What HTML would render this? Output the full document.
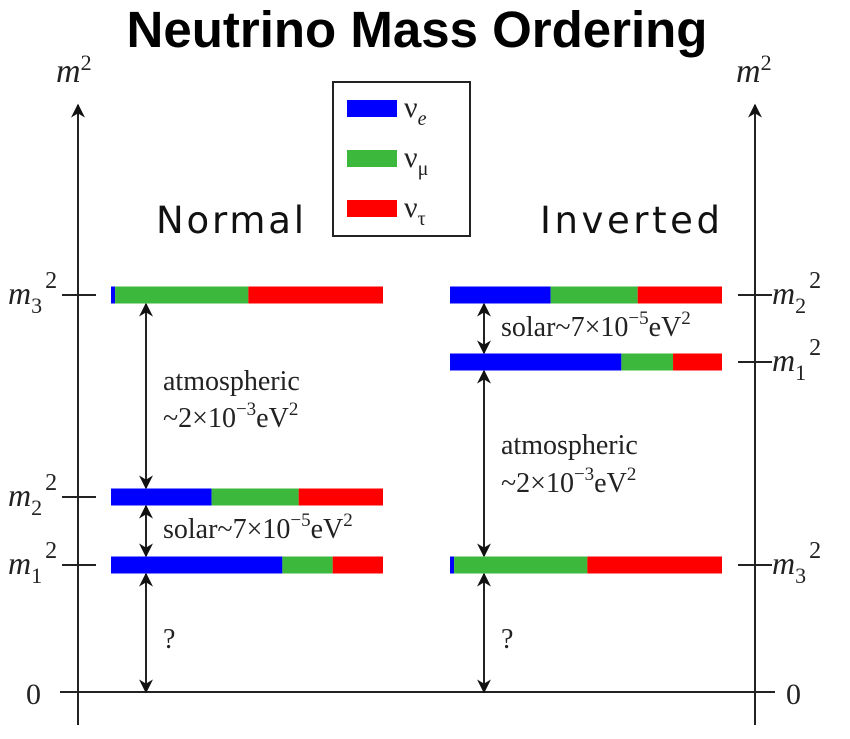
<!DOCTYPE html>
<html><head><meta charset="utf-8"><style>
html,body{margin:0;padding:0;background:#fff;}
svg{display:block;}
text{font-family:"Liberation Serif",serif;fill:#222;}
</style></head><body>
<svg id="chart" width="850" height="739" viewBox="0 0 850 739" xmlns="http://www.w3.org/2000/svg">
<defs>
<marker id="ah" viewBox="0 0 10 10" refX="9" refY="5" markerWidth="7" markerHeight="7" orient="auto-start-reverse"><path d="M0,0 L10,5 L0,10 L3,5 z" fill="#111"/></marker>
</defs>
<text x="417" y="47" text-anchor="middle" style="font-family:'Liberation Sans',sans-serif;font-weight:bold;font-size:51px;fill:#000">Neutrino Mass Ordering</text>
<g id="axes"></g>
<g id="bars"></g>
<g id="labels"></g>
<g>
<rect x="333" y="82" width="137" height="154" fill="#fff" stroke="#222" stroke-width="2"/>
<rect x="347" y="100" width="50" height="17" fill="#0000ff"/>
<text x="404" y="117" font-size="30">ν<tspan font-size="20" font-style="italic" dy="8">e</tspan></text>
<rect x="347" y="150" width="50" height="17" fill="#3cb93c"/>
<text x="404" y="167" font-size="30">ν<tspan font-size="20" dy="8">μ</tspan></text>
<rect x="347" y="200" width="50" height="17" fill="#ff0000"/>
<text x="404" y="217" font-size="30">ν<tspan font-size="20" dy="8">τ</tspan></text>
</g>
<text x="230" y="233" text-anchor="middle" textLength="148" style="font-family:'DejaVu Sans',sans-serif;font-size:37px;fill:#111">Normal</text>
<text x="630" y="233" text-anchor="middle" textLength="180" style="font-family:'DejaVu Sans',sans-serif;font-size:37px;fill:#111">Inverted</text>
</svg>
<script>
// Data
const normalLevels = ["m3","m2","m1"];
const normalY = [295, 497, 565];
const normalFracE = [0.015, 0.37, 0.63];
const normalFracMu = [0.49, 0.32, 0.185];
const invertedLevels = ["m2","m1","m3"];
const invertedY = [295, 362, 565];
const invertedFracE = [0.37, 0.63, 0.015];
const invertedFracMu = [0.32, 0.19, 0.49];
const colors = ["#0000ff","#3cb93c","#ff0000"];
const NS = "http://www.w3.org/2000/svg";
const zeroY = 692;
function el(tag, attrs, parent){const e=document.createElementNS(NS,tag);for(const k in attrs)e.setAttribute(k,attrs[k]);parent.appendChild(e);return e;}
const axes=document.getElementById('axes'), bars=document.getElementById('bars'), labels=document.getElementById('labels');

let a=el('line',{x1:78,y1:725,x2:78,y2:105,stroke:'#222','stroke-width':2,'marker-end':'url(#ah)'},axes);


a=el('line',{x1:755,y1:725,x2:755,y2:105,stroke:'#222','stroke-width':2,'marker-end':'url(#ah)'},axes);


a=el('line',{x1:60,y1:zeroY,x2:775,y2:zeroY,stroke:'#222','stroke-width':2},axes);


function axLabel(x,y,txt,name){const t=el('text',{x:x,y:y,'font-size':34,'font-style':'italic'},labels);t.innerHTML=txt;}
axLabel(56,82,'m<tspan font-size="22" font-style="normal" dy="-12">2</tspan>','left-axis-title');
axLabel(736,82,'m<tspan font-size="22" font-style="normal" dy="-12">2</tspan>','right-axis-title');
let z=el('text',{x:26,y:704,'font-size':30},labels);z.textContent='0';


z=el('text',{x:786,y:704,'font-size':30},labels);z.textContent='0';



function drawSide(levels, ys, fe, fm, x0, x1, tickX1, tickX2, labelX, side){
  levels.forEach((lv,i)=>{
    const y=ys[i], w=x1-x0, h=17;
    const wE=w*fe[i], wM=w*fm[i], wT=w-wE-wM;
    const segs=[wE,wM,wT]; let cx=x0;
    const names=['nu-e','nu-mu','nu-tau'];
    segs.forEach((sw,j)=>{
      const r=el('rect',{x:cx,y:y-h/2,width:sw,height:h,fill:colors[j]},bars);
      
      
      cx+=sw;
    });
    const t=el('line',{x1:tickX1,y1:y,x2:tickX2,y2:y,stroke:'#222','stroke-width':2},axes);
    
    
    const lbl=el('text',{x:labelX,y:y+9,'font-size':32,'font-style':'italic'},labels);
    lbl.innerHTML='m<tspan font-size="22" font-style="normal" dy="9">'+lv[1]+'</tspan><tspan font-size="24" font-style="normal" dx="3" dy="-25">2</tspan>';
    
    
  });
}
drawSide(normalLevels, normalY, normalFracE, normalFracMu, 111, 383, 62, 96, 8, 'normal');
drawSide(invertedLevels, invertedY, invertedFracE, invertedFracMu, 450, 722, 738, 772, 772, 'inverted');

function arrow(x,y1,y2,name){const l=el('line',{x1:x,y1:y1,x2:x,y2:y2,stroke:'#222','stroke-width':2,'marker-start':'url(#ah)','marker-end':'url(#ah)'},axes);}
const hb=9;
arrow(146, normalY[0]+hb, normalY[1]-hb, 'normal-atmospheric-arrow');
arrow(146, normalY[1]+hb, normalY[2]-hb, 'normal-solar-arrow');
arrow(146, normalY[2]+hb, zeroY, 'normal-lightest-arrow');
arrow(484, invertedY[0]+hb, invertedY[1]-hb, 'inverted-solar-arrow');
arrow(484, invertedY[1]+hb, invertedY[2]-hb, 'inverted-atmospheric-arrow');
arrow(484, invertedY[2]+hb, zeroY, 'inverted-lightest-arrow');

function txt(x,y,html,name){const t=el('text',{x:x,y:y,'font-size':28},labels);t.innerHTML=html;}
const atm2='~2×10<tspan font-size="19" dy="-12">−3</tspan><tspan dy="12">eV</tspan><tspan font-size="19" dy="-12">2</tspan>';
const sol='solar~7×10<tspan font-size="19" dy="-12">−5</tspan><tspan dy="12">eV</tspan><tspan font-size="19" dy="-12">2</tspan>';
txt(163,390,'atmospheric','normal-atmospheric-label');
txt(163,427,atm2,'normal-atmospheric-value');
txt(163,538,sol,'normal-solar-label');
txt(163,648,'?','normal-lightest-label');
txt(501,336,sol,'inverted-solar-label');
txt(501,454,'atmospheric','inverted-atmospheric-label');
txt(501,492,atm2,'inverted-atmospheric-value');
txt(501,648,'?','inverted-lightest-label');
</script>
</body></html>
